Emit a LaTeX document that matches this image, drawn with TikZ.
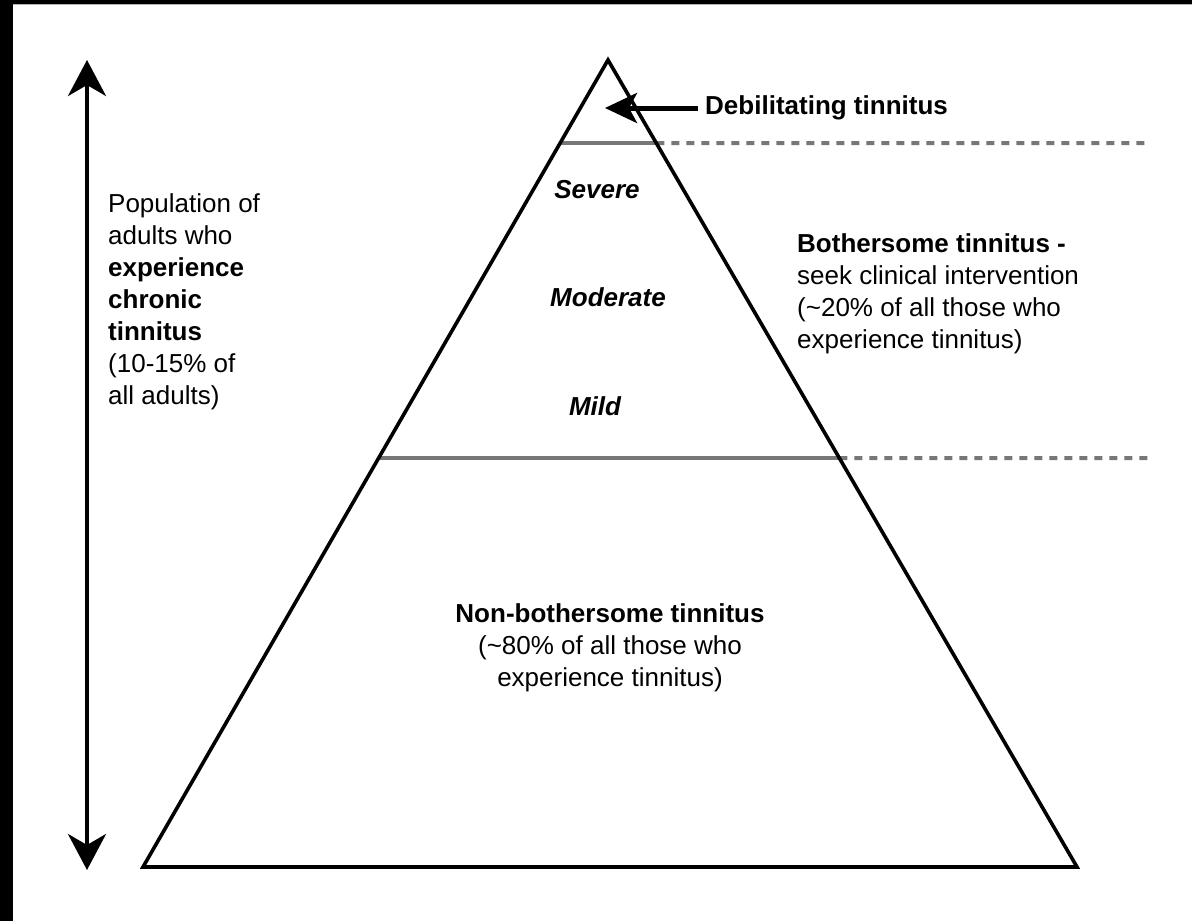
\documentclass[tikz,border=0pt]{standalone}
\usepackage{fontspec}
\setmainfont{Liberation Sans}
\usetikzlibrary{arrows.meta,calc}

\definecolor{bandgray}{HTML}{777777}

\tikzset{
  edge/.style={line width=3.6pt, line join=miter},
  band/.style={bandgray, line width=4pt},
  bandext/.style={bandgray, line width=4pt, dash pattern=on 8pt off 7pt},
  txt/.style={inner sep=0pt, font=\fontsize{26}{32}\selectfont},
  tier/.style={txt, font=\fontsize{26}{32}\selectfont\bfseries\itshape},
}

\begin{document}
\begin{tikzpicture}[x=1pt, y=-1pt]
  % canvas and dark frame strips
  \fill[white] (0,0) rectangle (1192,921);
  \useasboundingbox (0,0) rectangle (1192,921);
  \fill[black] (0,0) rectangle (13,921);
  \fill[black] (0,0) rectangle (1192,4);
  \draw[gray!60, line width=1pt] (13,4.5) -- (1192,4.5);

  % pyramid corners
  \coordinate (apex) at (608,60);
  \coordinate (bl) at (143,867);
  \coordinate (br) at (1077,867);

  % band boundaries on the pyramid edges
  \coordinate (upL) at ($(apex)!0.1029!(bl)$);
  \coordinate (upR) at ($(apex)!0.1029!(br)$);
  \coordinate (loL) at ($(apex)!0.4932!(bl)$);
  \coordinate (loR) at ($(apex)!0.4932!(br)$);
  \coordinate (upEnd) at (1150,143);
  \coordinate (loEnd) at (1150,458);

  \draw[band] (upL) -- (upR);
  \draw[bandext] (upR) -- (upEnd);
  \draw[band] (loL) -- (loR);
  \draw[bandext] (loR) -- (loEnd);

  % pyramid outline
  \draw[edge] (apex) -- (br) -- (bl) -- cycle;

  % population axis
  \coordinate (axTop) at (87,60);
  \coordinate (axBot) at (87,870);
  \draw[line width=4pt, {Stealth[length=36pt,width=38pt,inset=11pt]}-{Stealth[length=36pt,width=38pt,inset=11pt]}] (axTop) -- (axBot);

  % labels
  \node[txt, anchor=west, font=\fontsize{26}{32}\selectfont\bfseries] (debil) at (705,108) {Debilitating tinnitus};
  \coordinate (debilTip) at (605,108);
  \draw[line width=5pt, -{Stealth[length=32pt,width=30pt,inset=8pt]}] (debil.west) ++(-7,0) -- (debilTip);

  \node[tier] (severe) at (597,190) {Severe};
  \node[tier] (moderate) at (608,297) {Moderate};
  \node[tier] (mild) at (595,406) {Mild};

  \node[txt, anchor=north west, align=left] (population) at (108,193)
    {Population of\\adults who\\\textbf{experience}\\\textbf{chronic}\\\textbf{tinnitus}\\(10-15\% of\\all adults)};

  \node[txt, anchor=north west, align=left] (bother) at (797,233)
    {\textbf{Bothersome tinnitus -}\\seek clinical intervention\\(\textasciitilde20\% of all those who\\experience tinnitus)};

  \node[txt, anchor=north, align=center] (nonbother) at (610,603)
    {\textbf{Non-bothersome tinnitus}\\(\textasciitilde80\% of all those who\\experience tinnitus)};
\end{tikzpicture}
\end{document}
